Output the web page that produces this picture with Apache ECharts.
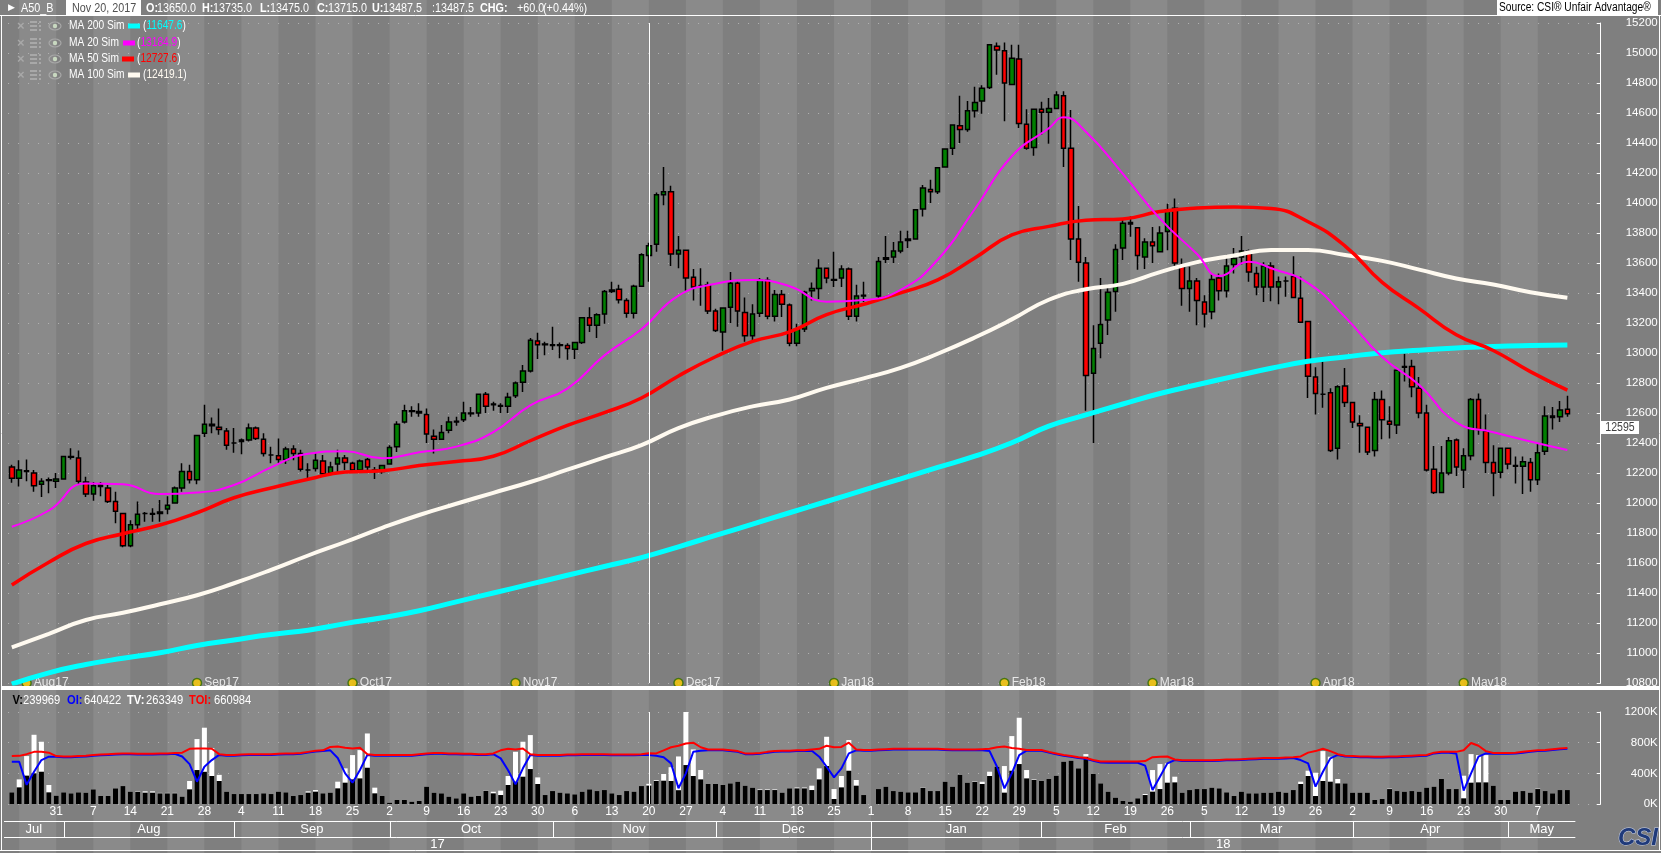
<!DOCTYPE html>
<html>
<head>
<meta charset="UTF-8">
<title>A50_B daily</title>
<script src="https://cdn.jsdelivr.net/npm/echarts@6/dist/echarts.min.js"></script>
<style>
  html, body { margin: 0; padding: 0; background: #7f7f7f; }
  #main { width: 1661px; height: 853px; }
</style>
</head>
<body>
<div id="main"></div>
<script>
// trading days, month by month
var tradingMonths = [
  ['2017-07', [21,24,25,26,27,28,31]],
  ['2017-08', [1,2,3,4,7,8,9,10,11,14,15,16,17,18,21,22,23,24,25,28,29,30,31]],
  ['2017-09', [1,4,5,6,7,8,11,12,13,14,15,18,19,20,21,22,25,26,27,28,29]],
  ['2017-10', [2,3,4,5,6,9,10,11,12,13,16,17,18,19,20,23,24,25,26,27,30,31]],
  ['2017-11', [1,2,3,6,7,8,9,10,13,14,15,16,17,20,21,22,23,24,27,28,29,30]],
  ['2017-12', [1,4,5,6,7,8,11,12,13,14,15,18,19,20,21,22,25,26,27,28,29]],
  ['2018-01', [1,2,3,4,5,8,9,10,11,12,15,16,17,18,19,22,23,24,25,26,29,30,31]],
  ['2018-02', [1,2,5,6,7,8,9,12,13,14,15,16,19,20,21,22,23,26,27,28]],
  ['2018-03', [1,2,5,6,7,8,9,12,13,14,15,16,19,20,21,22,23,26,27,28,29,30]],
  ['2018-04', [2,3,4,5,6,9,10,11,12,13,16,17,18,19,20,23,24,25,26,27,30]],
  ['2018-05', [1,2,3,4,7,8,9,10,11]]
];
var padDays = ['2018-05-14', '2018-05-15', '2018-05-16', '2018-05-17'];
var monthNames = ['Jul','Aug','Sep','Oct','Nov','Dec','Jan','Feb','Mar','Apr','May'];
var yearNames = ['17', '18'];

var open = [
  12240,12165,12215,12200,12125,12150,12145,12160,12310,12300,
  12140,12060,12120,12100,12010,11930,11715,11855,11930,11925,
  11930,11960,12000,12100,12210,12155,12465,12525,12505,12480,
  12400,12410,12420,12500,12425,12320,12315,12290,12360,12330,
  12220,12230,12280,12200,12260,12300,12265,12220,12290,12220,
  12210,12260,12375,12540,12610,12610,12590,12445,12425,12485,
  12540,12555,12595,12600,12725,12655,12650,12645,12715,12805,
  12880,13080,13060,13055,13050,13050,13025,13070,13235,13185,
  13260,13410,13425,13350,13265,13445,13650,13725,14055,14075,
  13660,13685,13505,13450,13455,13280,13140,13305,13465,13270,
  13115,13265,13485,13245,13390,13320,13065,13160,13415,13430,
  13565,13490,13500,13560,13245,13380,null,13380,13625,13640,
  13680,13750,13760,13960,14090,14075,14240,14365,14515,14490,
  14615,14680,14770,15045,15015,14790,14960,14525,14370,14625,
  14605,14630,14715,14365,13760,13600,12865,13065,13220,13410,
  13700,13870,13835,13640,13740,13675,13810,13965,13585,13430,
  13480,13340,13275,13500,13415,13590,13640,13680,13530,13440,
  13580,13440,13480,13510,13365,13210,12840,12725,12735,12365,
  12780,12670,12530,12505,12350,12690,12545,12520,12905,12910,
  12765,12600,12225,12070,12200,12420,12220,12315,12690,12480,
  12270,12205,12365,12245,12245,12270,12155,12345,12580,12575,12625
];
var high = [
  12255,12285,12290,12220,12165,12170,12200,12315,12365,12350,
  12175,12140,12140,12120,12075,11930,11885,12010,11940,11965,
  12020,12045,12110,12265,12255,12455,12655,12570,12630,12500,
  12500,12430,12530,12510,12465,12375,12430,12375,12385,12355,
  12265,12340,12320,12275,12355,12320,12275,12290,12300,12240,
  12255,12385,12545,12655,12645,12665,12630,12490,12520,12575,
  12575,12675,12640,12730,12740,12675,12665,12735,12810,12920,
  13100,13135,13075,13175,13070,13065,13075,13240,13305,13265,
  13420,13475,13455,13365,13455,13665,13735,14070,14240,14115,
  13780,13690,13560,13565,13475,13295,13300,13540,13475,13370,
  13325,13500,13505,13420,13420,13330,13195,13415,13470,13625,
  13565,13675,13585,13570,13455,13475,null,13640,13780,13740,
  13815,13815,13960,14120,14155,14240,14365,14525,14715,14680,
  14775,14785,15060,15070,15070,15055,15055,14625,14630,14675,
  14700,14745,14745,14620,13980,13640,13185,13500,13455,13725,
  13890,13910,13840,13765,13840,13845,13995,14030,13630,13575,
  13500,13385,13525,13530,13655,13700,13780,13690,13575,13605,
  13605,13510,13510,13645,13510,13215,12905,12955,12765,12785,
  12900,12675,12585,12505,12740,12750,12645,12890,12995,12955,
  12840,12655,12380,12380,12440,12430,12365,12700,12730,12590,
  12385,12365,12365,12310,12310,12300,12395,12645,12640,12680,12715
];
var low = [
  12135,12110,12145,12075,12040,12065,12100,12155,12290,12120,
  12040,12015,12045,12000,11865,11705,11705,11820,11875,11875,
  11875,11925,11995,12075,12130,12125,12440,12465,12455,12355,
  12335,12325,12410,12420,12310,12265,12265,12260,12285,12210,
  12165,12210,12185,12185,12200,12220,12210,12200,12200,12160,
  12195,12255,12340,12530,12575,12575,12400,12330,12420,12465,
  12515,12540,12575,12575,12600,12615,12600,12600,12700,12740,
  12870,12960,12985,13020,12965,12955,12960,13060,13140,13100,
  13195,13400,13330,13235,13230,13440,13475,13675,13985,13580,
  13565,13415,13350,13315,13260,13140,13015,13200,13175,13075,
  13085,13240,13225,13210,13240,13045,13045,13140,13350,13360,
  13465,13440,13440,13220,13210,13340,null,13355,13600,13600,
  13665,13700,13755,13910,14000,14060,14235,14320,14400,14475,
  14570,14595,14760,14855,14545,14785,14500,14355,14315,14455,
  14395,14625,14240,13620,13475,12615,12400,12965,13120,13275,
  13620,13775,13555,13560,13600,13670,13685,13555,13315,13275,
  13185,13170,13225,13350,13370,13530,13590,13475,13385,13340,
  13345,13325,13375,13365,13200,12700,12590,12635,12340,12290,
  12640,12500,12335,12320,12310,12425,12430,12460,12810,12705,
  12565,12210,12060,12065,12185,12180,12100,12285,12455,12200,
  12045,12165,12225,12130,12060,12075,12120,12320,12490,12540,12575
];
var close = [
  12165,12220,12210,12115,12145,12155,12160,12310,12305,12145,
  12060,12115,12110,12010,11945,11715,11855,11925,11930,11930,
  11940,11985,12100,12210,12155,12450,12525,12515,12490,12385,
  12400,12420,12500,12430,12330,12320,12290,12360,12330,12225,
  12220,12285,12195,12240,12300,12270,12220,12280,12240,12210,
  12250,12370,12525,12615,12615,12600,12460,12425,12470,12540,
  12545,12600,12600,12725,12645,12660,12645,12705,12800,12880,
  13085,13055,13055,13050,13055,13030,13070,13235,13185,13255,
  13410,13420,13355,13265,13445,13655,13715,14055,14075,13660,
  13685,13500,13440,13450,13280,13150,13300,13465,13280,13115,
  13260,13485,13245,13390,13325,13065,13160,13405,13430,13565,
  13500,13485,13560,13245,13380,13385,null,13610,13635,13680,
  13740,13760,13955,14100,14075,14235,14360,14520,14490,14615,
  14670,14765,15055,15020,14800,14965,14530,14365,14625,14605,
  14630,14720,14365,13760,13605,12850,13030,13190,13405,13690,
  13865,13860,13650,13740,13715,13800,13955,13600,13430,13480,
  13350,13260,13490,13415,13580,13630,13680,13540,13440,13580,
  13440,13475,13480,13370,13205,12845,12730,12725,12350,12775,
  12670,12540,12515,12340,12690,12555,12525,12885,12910,12775,
  12600,12220,12070,12200,12415,12240,12315,12690,12490,12270,
  12200,12365,12260,12250,12275,12155,12335,12580,12570,12620,12595
];

// moving averages, every 5th session (MA20 with a few extra points)
var maIdx = [0,5,10,15,20,25,30,35,40,45,50,55,60,65,70,75,80,85,90,95,100,105,
  110,115,120,125,130,135,140,145,150,155,160,165,170,175,180,185,190,195,200,205,210];
var ma200 = [10793,10868,10923,10965,11002,11050,11087,11123,11152,11196,11235,11282,11341,11400,
  11459,11518,11577,11636,11708,11784,11859,11935,12010,12086,12161,12237,12312,12402,12512,12587,
  12660,12730,12788,12844,12898,12945,12974,13002,13019,13033,13044,13050,13053];
var ma100 = [11038,11128,11220,11268,11325,11385,11465,11554,11650,11740,11834,11920,11995,12068,
  12140,12222,12304,12386,12499,12581,12644,12690,12767,12831,12901,12995,13103,13224,13355,13425,
  13461,13539,13606,13650,13687,13686,13654,13614,13556,13497,13457,13405,13369];
var ma50 = [11453,11605,11730,11795,11853,11935,12035,12100,12158,12206,12215,12250,12276,12312,
  12415,12517,12602,12700,12847,12975,13077,13141,13256,13325,13401,13487,13634,13787,13844,13885,
  13894,13943,13966,13973,13963,13875,13713,13471,13296,13122,13017,12876,12753];
var ma20Idx = [0,5,10,15,20,25,30,35,40,45,50,55,60,65,70,75,80,85,90,95,100,105,110,115,120,
  125,130,135,140,142,145,150,155,160,163,167,170,175,180,185,190,195,200,205,210];
var ma20 = [11842,11950,12130,12125,12060,12070,12120,12238,12328,12345,12298,12338,12376,12473,
  12651,12763,12984,13158,13382,13461,13487,13445,13342,13353,13421,13622,13960,14312,14498,14571,
  14475,14194,13896,13660,13513,13609,13565,13466,13239,12973,12787,12538,12472,12410,12353];

// volume panel, thousands
var vol = [
  152,217,370,400,421,152,109,152,139,152,
  148,191,104,104,204,234,161,161,148,148,
  139,139,139,96,191,443,420,365,300,161,
  130,130,130,130,139,130,161,152,104,117,
  148,161,139,148,204,278,321,334,473,139,
  104,17,52,52,30,39,226,148,139,96,
  74,139,96,104,174,139,117,248,291,356,
  456,261,117,169,148,139,126,161,191,169,
  182,139,117,169,161,234,240,300,304,300,
  180,508,365,321,261,261,248,269,291,239,
  213,182,182,182,148,204,204,204,182,321,
  495,65,217,434,239,117,null,195,226,169,
  161,152,152,213,169,169,291,226,378,278,
  291,261,365,486,148,434,521,334,313,300,
  326,369,552,565,465,617,391,269,161,83,
  39,30,74,117,161,195,278,282,148,182,
  195,195,213,204,152,104,161,139,139,148,
  148,161,148,182,261,365,104,300,291,269,
  269,148,148,148,52,65,195,169,161,169,
  161,213,226,326,195,195,74,278,282,282,
  239,52,52,161,169,148,195,169,139,182,182
];
var totalVol = [
  152,321,625,903,812,248,109,152,139,152,
  148,191,104,104,204,234,161,170,165,165,
  145,145,145,96,300,847,995,730,380,161,
  130,130,130,130,139,130,161,152,104,117,
  165,182,139,148,291,465,638,703,920,213,
  104,17,52,52,30,39,226,148,139,96,
  74,139,96,104,180,160,174,365,681,812,
  899,347,117,169,148,139,126,161,191,169,
  182,139,117,169,161,234,263,310,391,480,
  620,1216,712,443,261,261,248,269,291,239,
  213,190,190,190,148,204,215,215,239,465,
  877,195,365,834,313,117,null,195,226,169,
  161,152,152,220,169,169,291,226,378,278,
  300,290,421,486,495,886,1125,443,320,300,
  326,369,552,565,465,651,391,269,161,83,
  39,30,74,130,443,521,530,356,148,182,
  195,195,213,204,152,104,161,139,139,148,
  148,161,148,182,291,434,408,690,617,326,
  269,148,148,148,52,65,200,169,161,169,
  161,213,226,326,195,195,369,651,638,638,
  239,52,52,161,169,148,200,169,139,182,182
];
var openInt = [
  552,552,250,420,573,617,615,610,610,615,
  620,630,635,640,645,650,650,645,645,645,
  650,650,655,620,520,291,486,573,640,630,
  630,635,640,640,640,640,645,650,650,655,
  670,685,690,700,600,400,278,443,640,630,
  630,630,630,630,630,640,650,655,655,650,
  650,645,645,640,640,650,595,440,256,465,
  640,630,630,630,630,635,635,640,640,640,
  640,635,635,635,635,640,640,630,610,530,
  205,400,682,695,700,700,700,690,680,650,
  650,655,670,680,685,685,690,690,695,617,
  486,347,465,660,700,695,695,700,705,710,
  710,710,710,710,710,710,705,700,700,700,
  700,700,690,486,204,400,638,695,695,695,
  670,650,630,615,600,590,565,540,538,538,
  538,538,538,500,182,356,530,573,560,560,
  560,560,560,565,570,570,575,580,585,590,
  590,590,595,600,573,530,226,421,595,640,
  620,615,610,610,605,605,610,610,615,620,
  625,630,660,670,670,660,174,400,617,660,
  655,655,655,660,670,680,690,695,705,715,720
];
var totalOI = [
  625,628,650,680,680,670,625,620,620,625,
  630,640,645,650,655,660,660,655,655,655,
  660,660,665,670,720,725,725,720,650,640,
  640,645,650,650,650,650,655,660,660,665,
  680,695,700,745,750,735,725,735,650,640,
  640,640,640,640,640,650,660,665,665,660,
  660,655,655,650,650,660,700,720,710,725,
  650,640,640,640,640,645,645,650,650,650,
  650,645,645,645,645,650,661,660,700,740,
  760,790,800,740,710,710,710,700,690,660,
  660,665,680,690,695,695,700,700,710,720,
  760,740,745,800,710,705,705,710,715,720,
  720,720,720,720,720,720,715,710,710,710,
  710,715,720,740,750,730,720,705,705,705,
  680,660,640,625,610,600,575,555,555,555,
  555,555,555,560,610,615,620,580,570,570,
  570,570,570,575,580,580,585,590,595,600,
  600,600,605,610,620,670,690,720,690,650,
  630,625,620,620,615,615,620,620,625,630,
  635,640,670,680,680,680,700,795,760,690,
  665,665,665,670,680,690,700,705,715,725,730
];

// contract roll markers
var markerDates = ['2017-07-25','2017-08-25','2017-09-25','2017-10-25','2017-11-24',
  '2017-12-25','2018-01-25','2018-02-22','2018-03-26','2018-04-23'];
var markerNames = ['Aug17','Sep17','Oct17','Nov17','Dec17','Jan18','Feb18','Mar18','Apr18','May18'];

var FONT = "'Liberation Sans',Arial,sans-serif";

var dates = [];
var monthStart = [];
tradingMonths.forEach(function (m) {
  monthStart.push(dates.length);
  m[1].forEach(function (d) {
    dates.push(m[0] + '-' + (d < 10 ? '0' + d : d));
  });
});
var nDays = dates.length;
var allDates = dates.concat(padDays);

function isMonday(s) {
  return new Date(s + 'T00:00:00Z').getUTCDay() === 1;
}
var mondays = [];
dates.forEach(function (d, i) { if (isMonday(d)) mondays.push(i); });

function maData(idx, vals) {
  return idx.map(function (i, k) { return [dates[i], vals[k]]; });
}

var candles = dates.map(function (d, i) {
  return open[i] == null ? '-' : [open[i], close[i], low[i], high[i]];
});

var chart = echarts.init(document.getElementById('main'));

var dotted = { show: true, lineStyle: { color: '#b4b4b4', width: 1, type: [1, 9] } };

var option = {
  animation: false,
  backgroundColor: '#7f7f7f',
  textStyle: { fontFamily: FONT },
  grid: [
    { left: 8.1, right: 60.3, top: 23, height: 660, outerBoundsMode: 'none' },
    { left: 8.1, right: 60.3, top: 712, height: 92, outerBoundsMode: 'none' }
  ],
  xAxis: [
    {
      type: 'category', gridIndex: 0, data: allDates, boundaryGap: true,
      axisLine: { show: false }, axisTick: { show: false },
      axisLabel: { show: false }, splitLine: { show: false }
    }, {
      type: 'category', gridIndex: 1, data: allDates, boundaryGap: true,
      axisLine: { show: false }, axisTick: { show: false }, splitLine: { show: false },
      axisLabel: {
        color: '#fff', fontSize: 12, fontFamily: FONT, margin: 2,
        interval: function (idx, val) { return idx > 2 && idx < nDays && isMonday(val); },
        formatter: function (val) { return String(+val.slice(8)); }
      }
    }
  ],
  yAxis: [
    {
      type: 'value', gridIndex: 0, position: 'right',
      min: 10800, max: 15200, interval: 200,
      axisLine: { show: true, lineStyle: { color: '#fff', width: 1 } },
      axisTick: { show: true, inside: true, length: 4, lineStyle: { color: '#fff' } },
      axisLabel: {
        color: '#fff', fontSize: 11.5, fontFamily: FONT, align: 'right', margin: 57,
        formatter: function (v) { return String(v); }
      },
      splitLine: dotted
    }, {
      type: 'value', gridIndex: 1, position: 'right',
      min: 0, max: 1200, interval: 400,
      axisLine: { show: true, lineStyle: { color: '#fff', width: 1 } },
      axisTick: { show: true, inside: true, length: 4, lineStyle: { color: '#fff' } },
      axisLabel: {
        color: '#fff', fontSize: 11.5, fontFamily: FONT, align: 'right', margin: 57,
        formatter: function (v) { return v + 'K'; }
      },
      splitLine: dotted
    }
  ],
  series: [
    {
      name: 'MA 200 Sim', type: 'line', xAxisIndex: 0, yAxisIndex: 0,
      data: maData(maIdx, ma200), smooth: true, symbol: 'none', silent: true,
      lineStyle: { color: '#00ffff', width: 5 }
    }, {
      name: 'MA 100 Sim', type: 'line', xAxisIndex: 0, yAxisIndex: 0,
      data: maData(maIdx, ma100), smooth: true, symbol: 'none', silent: true,
      lineStyle: { color: '#fffaf0', width: 4 }
    }, {
      name: 'MA 50 Sim', type: 'line', xAxisIndex: 0, yAxisIndex: 0,
      data: maData(maIdx, ma50), smooth: true, symbol: 'none', silent: true,
      lineStyle: { color: '#ff0000', width: 3.5 }
    }, {
      name: 'MA 20 Sim', type: 'line', xAxisIndex: 0, yAxisIndex: 0,
      data: maData(ma20Idx, ma20), smooth: true, symbol: 'none', silent: true,
      lineStyle: { color: '#ff00ff', width: 2 }
    }, {
      name: 'A50_B', type: 'candlestick', xAxisIndex: 0, yAxisIndex: 0,
      data: candles, barWidth: 5, silent: true,
      itemStyle: {
        color: '#008000', color0: '#ff0000',
        borderColor: '#000', borderColor0: '#000', borderColorDoji: '#000',
        borderWidth: 1.5
      },
      markLine: {
        silent: true, symbol: ['none', 'none'], label: { show: false },
        lineStyle: { color: '#fff', width: 1, type: 'solid' },
        data: [{ xAxis: '2017-11-20' }]
      }
    }, {
      name: 'rolls', type: 'scatter', xAxisIndex: 0, yAxisIndex: 0, clip: false,
      data: markerDates.map(function (d) { return [d, 10800]; }),
      symbol: 'circle', symbolSize: 9, silent: true,
      itemStyle: { color: '#ffcc00', borderColor: '#2e6b00', borderWidth: 1.5 },
      label: {
        show: true, position: 'right', distance: 2, color: '#fff', fontSize: 12, fontFamily: FONT,
        formatter: function (p) { return markerNames[p.dataIndex]; }
      }
    }, {
      name: 'TV', type: 'bar', xAxisIndex: 1, yAxisIndex: 1,
      data: totalVol, barWidth: 5, silent: true, itemStyle: { color: '#fff' }
    }, {
      name: 'V', type: 'bar', xAxisIndex: 1, yAxisIndex: 1,
      data: vol, barWidth: 5, barGap: '-100%', silent: true, itemStyle: { color: '#000' },
      markLine: {
        silent: true, symbol: ['none', 'none'], label: { show: false },
        lineStyle: { color: '#fff', width: 1, type: 'solid' },
        data: [{ xAxis: '2017-11-20' }]
      }
    }, {
      name: 'OI', type: 'line', xAxisIndex: 1, yAxisIndex: 1,
      data: openInt, symbol: 'none', silent: true,
      lineStyle: { color: '#0000ff', width: 2 }
    }, {
      name: 'TOI', type: 'line', xAxisIndex: 1, yAxisIndex: 1,
      data: totalOI, symbol: 'none', silent: true,
      lineStyle: { color: '#ff0000', width: 2 }
    }
  ]
};
chart.setOption(option);

// ---- decorations placed with the axis scale ----
function px(i) { return chart.convertToPixel({ xAxisIndex: 0 }, allDates[i]); }
// sx squeezes text horizontally to mimic the narrow screen font
function txt(x, y, s, fill, size, bold, align, sx) {
  return {
    type: 'text', x: x, y: y, z: 100, silent: true, scaleX: sx || 1,
    style: {
      text: s, fill: fill, font: (bold ? 'bold ' : '') + (size || 12) + 'px ' + FONT,
      textAlign: align || 'left', textVerticalAlign: 'middle'
    }
  };
}
function rect(x, y, w, h, fill, z) {
  return { type: 'rect', silent: true, z: z == null ? 100 : z,
    shape: { x: x, y: y, width: w, height: h }, style: { fill: fill } };
}
function seg(x1, y1, x2, y2, stroke, w) {
  return { type: 'line', silent: true, z: 100,
    shape: { x1: x1, y1: y1, x2: x2, y2: y2 }, style: { stroke: stroke, lineWidth: w || 1 } };
}

var g = [];
// weekly stripes (Monday to Monday)
for (var k = 0; k + 1 < mondays.length; k += 2) {
  var xa = px(mondays[k]), xb = px(mondays[k + 1]);
  g.push(rect(xa, 0, xb - xa, 853, '#8a8a8a', -10));
}

// frame
g.push(seg(0, 15.5, 1661, 15.5, '#fff', 1));
g.push(seg(1.5, 16, 1.5, 851, '#fff', 1));
g.push(seg(1659.5, 16, 1659.5, 851, '#fff', 1));
g.push(seg(0, 850.5, 1661, 850.5, '#fff', 1));
g.push(rect(2, 686, 1657, 4, '#fff'));

// header line
var SQ = 0.83;
g.push(txt(8, 8, '\u25B6', '#fff', 9));
g.push(txt(21, 8, 'A50_B', '#fff', 13, false, 'left', SQ));
g.push(rect(66, 0, 75, 15, '#fff'));
g.push(txt(72, 8, 'Nov 20, 2017', '#505050', 13, false, 'left', SQ));
var head = [
  [146, 'O:', true], [157, '13650.0'], [202, 'H:', true], [213, '13735.0'],
  [260, 'L:', true], [270, '13475.0'], [317, 'C:', true], [328, '13715.0'],
  [372, 'U:', true], [383, '13487.5'], [432, ':13487.5'],
  [480, 'CHG:', true], [517, '+60.0'], [543, '(+0.44%)']
];
head.forEach(function (h) { g.push(txt(h[0], 8, h[1], '#fff', 13, !!h[2], 'left', SQ)); });
g.push(rect(1497, 0, 161, 15, '#fff'));
g.push(txt(1499, 8, 'Source: CSI\u00AE Unfair Advantage\u00AE', '#000', 12, false, 'left', 0.85));

// legend rows
var legendRows = [
  [26, 'MA 200 Sim', '#00ffff', '11647.6', 128, 143],
  [43, 'MA 20 Sim', '#ff00ff', '13184.9', 123, 137],
  [59, 'MA 50 Sim', '#ff0000', '12727.6', 122, 137],
  [75, 'MA 100 Sim', '#fffaf0', '12419.1', 128, 143]
];
legendRows.forEach(function (r) {
  var y = r[0];
  g.push(txt(17, y, '\u00D7', '#a8a8a8', 13, true));
  for (var j = -1; j <= 1; j++) {
    g.push(rect(30, y + j * 4 - 1, 7, 2, '#a8a8a8'));
    g.push(rect(39, y + j * 4 - 1, 2, 2, '#a8a8a8'));
  }
  g.push({ type: 'ellipse', silent: true, z: 100, shape: { cx: 55, cy: y, rx: 6, ry: 4 },
    style: { fill: 'none', stroke: '#a8a8a8', lineWidth: 1.2 } });
  g.push({ type: 'circle', silent: true, z: 100, shape: { cx: 55, cy: y, r: 2.2 },
    style: { fill: '#c8d8c0' } });
  g.push(txt(69, y, r[1], '#fff', 12, false, 'left', 0.85));
  g.push(rect(r[4], y - 2.5, 12, 5, r[2]));
  g.push({
    type: 'text', x: r[5], y: y, z: 100, silent: true, scaleX: 0.85,
    style: {
      text: '{p|(}{v|' + r[3] + '}{p|)}', textVerticalAlign: 'middle',
      font: '12px ' + FONT, fill: '#fff',
      rich: {
        p: { fill: '#fff', color: '#fff', fontSize: 12, fontFamily: FONT },
        v: { fill: r[2], color: r[2], fontSize: 12, fontFamily: FONT }
      }
    }
  });
});

// volume header
var vHead = [
  [12.5, 'V:', '#000', true], [23, '239969', '#fff'], [67, 'OI:', '#0000ff', true], [84, '640422', '#fff'],
  [127, 'TV:', '#fff', true], [146, '263349', '#fff'], [189, 'TOI:', '#ff0000', true], [214, '660984', '#fff']
];
vHead.forEach(function (h) { g.push(txt(h[0], 700, h[1], h[2], 13, !!h[3], 'left', 0.86)); });

// current price box
g.push(rect(1601, 421, 38, 13, '#fff'));
g.push(txt(1620, 427.5, '12595', '#404040', 12, false, 'center', 0.88));

// month and year rows
var xLeft = 4;
var xEnd = px(nDays - 1) + 8;
g.push(seg(xLeft, 821.5, xEnd, 821.5, '#fff', 1));
g.push(seg(xLeft, 837.5, xEnd, 837.5, '#fff', 1));
var yearStart = dates.indexOf('2018-01-01');
monthStart.forEach(function (s, m) {
  var x0 = m === 0 ? xLeft : px(s);
  var x1 = m + 1 < monthStart.length ? px(monthStart[m + 1]) : xEnd;
  if (m > 0) {
    var bottom = s === yearStart ? 850 : 837.5;
    g.push(seg(Math.round(x0) + 0.5, 821.5, Math.round(x0) + 0.5, bottom, '#fff', 1));
  }
  g.push(txt((x0 + x1) / 2, 829.5, monthNames[m], '#fff', 13, false, 'center'));
});
g.push(txt((xLeft + px(yearStart)) / 2, 844, yearNames[0], '#fff', 13, false, 'center'));
g.push(txt((px(yearStart) + xEnd) / 2, 844, yearNames[1], '#fff', 13, false, 'center'));

// CSI logo
g.push({
  type: 'text', x: 1638, y: 838, z: 100, silent: true,
  style: {
    text: 'CSI', font: 'italic bold 24px ' + FONT, fill: '#1f3a7a',
    stroke: '#c8d0e8', lineWidth: 1, textAlign: 'center', textVerticalAlign: 'middle'
  }
});

chart.setOption({ graphic: { elements: g } });
</script>
</body>
</html>
